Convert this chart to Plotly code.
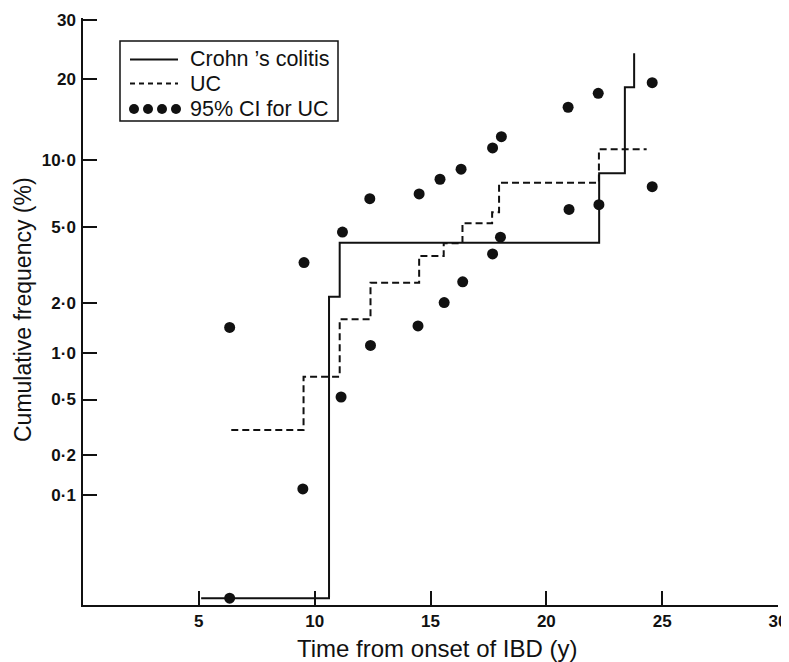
import plotly.graph_objects as go
from statistics import NormalDist

# ---------------- data ----------------
crohn_years = [5.1, 10.62, 11.08, 22.28, 23.39, 23.79]
crohn_pct = [0, 2.17, 4.20, 8.80, 18.72, 24.06]

uc_years = [6.40, 9.52, 11.08, 12.41, 14.51, 15.57, 16.38, 17.66, 17.96, 22.27, 24.33]
uc_pct = [0.307, 0.709, 1.61, 2.59, 3.59, 4.17, 5.23, 5.89, 8.02, 11.06, 11.06]

ci_upper_years = [6.33, 9.54, 11.20, 12.38, 14.51, 15.41, 16.32, 17.68, 18.06, 20.94, 22.24, 24.57]
ci_upper_pct = [1.44, 3.32, 4.74, 6.81, 7.15, 8.30, 9.16, 11.2, 12.4, 15.96, 17.86, 19.4]
ci_lower_years = [6.33, 9.49, 11.14, 12.41, 14.46, 15.59, 16.39, 17.68, 18.02, 20.98, 22.27, 24.57]
ci_lower_pct = [0, 0.111, 0.52, 1.12, 1.47, 2.01, 2.62, 3.68, 4.47, 6.08, 6.39, 7.70]

y_tick_values = [0.1, 0.2, 0.5, 1, 2, 5, 10, 20, 30]
y_tick_labels = ["0·1", "0·2", "0·5", "1·0", "2·0", "5·0", "10·0", "20", "30"]
x_tick_values = [5, 10, 15, 20, 25, 30]

legend_labels = ["Crohn \u2019s colitis", "UC", "95% CI for UC"]

# ---------------- probability (probit) scale ----------------
ND = NormalDist()
ZERO_Z = -3.65  # where 0 % is drawn on normal-probability paper


def prob(v):
    return ZERO_Z if v <= 0 else ND.inv_cdf(v / 100.0)


def tr(vals):
    return [prob(v) for v in vals]


Y_BOTTOM = -3.6866
Y_TOP = -0.5136

FONT = "Liberation Sans, Arial, sans-serif"
INK = "#111111"

# page geometry: the html body adds an 8px offset
OFF = 8
W, H = 789 - OFF, 662 - OFF
PLOT_L, PLOT_R, PLOT_T, PLOT_B = 83, 778, 18, 605  # page pixels
ML, MT = PLOT_L - OFF, PLOT_T - OFF
MR, MB = W - (PLOT_R - OFF), H - (PLOT_B - OFF)
PW, PH = PLOT_R - PLOT_L, PLOT_B - PLOT_T


def px(x):
    return (x - PLOT_L) / PW


def py(y):
    return (PLOT_B - y) / PH


fig = go.Figure()

fig.add_trace(go.Scatter(
    x=crohn_years, y=tr(crohn_pct), mode="lines", line_shape="hv",
    line=dict(color=INK, width=2), showlegend=False, hoverinfo="skip"))

fig.add_trace(go.Scatter(
    x=uc_years, y=tr(uc_pct), mode="lines", line_shape="hv",
    line=dict(color=INK, width=2, dash="7px,4px"), showlegend=False, hoverinfo="skip"))

fig.add_trace(go.Scatter(
    x=ci_upper_years, y=tr(ci_upper_pct), mode="markers",
    marker=dict(color=INK, size=11), showlegend=False, hoverinfo="skip", cliponaxis=False))
fig.add_trace(go.Scatter(
    x=ci_lower_years, y=tr(ci_lower_pct), mode="markers",
    marker=dict(color=INK, size=11), showlegend=False, hoverinfo="skip", cliponaxis=False))

# ---------------- manual legend ----------------
shapes = []
annotations = []
shapes.append(dict(type="rect", xref="paper", yref="paper",
                   x0=px(120), x1=px(338), y0=py(121), y1=py(41),
                   line=dict(color=INK, width=1.5), fillcolor="white", layer="above"))
shapes.append(dict(type="line", xref="paper", yref="paper",
                   x0=px(130), x1=px(178), y0=py(59.5), y1=py(59.5),
                   line=dict(color=INK, width=2), layer="above"))
shapes.append(dict(type="line", xref="paper", yref="paper",
                   x0=px(130), x1=px(178), y0=py(83.5), y1=py(83.5),
                   line=dict(color=INK, width=2, dash="5px,4px"), layer="above"))
for cx in [134, 148, 162, 176]:
    shapes.append(dict(type="circle", xref="paper", yref="paper",
                       xsizemode="pixel", ysizemode="pixel",
                       xanchor=px(cx), yanchor=py(109), x0=-5, x1=5, y0=-5, y1=5,
                       fillcolor=INK, line=dict(color=INK, width=0), layer="above"))
for label, yy in zip(legend_labels, [59, 84, 109]):
    annotations.append(dict(text=label, xref="paper", yref="paper", x=px(188), y=py(yy),
                            xanchor="left", yanchor="middle", showarrow=False,
                            font=dict(family=FONT, size=21.5, color=INK)))

# axis titles
annotations.append(dict(text="Cumulative frequency (%)", xref="paper", yref="paper",
                        x=px(23), y=py(310), textangle=-90, showarrow=False,
                        xanchor="center", yanchor="middle",
                        font=dict(family=FONT, size=23, color=INK)))
annotations.append(dict(text="Time from onset of IBD (y)", xref="paper", yref="paper",
                        x=px(437), y=py(648), showarrow=False,
                        xanchor="center", yanchor="middle",
                        font=dict(family=FONT, size=24, color=INK)))

TICKFONT = dict(family=FONT, size=17, color=INK, weight="bold")

fig.update_layout(
    width=W, height=H,
    margin=dict(l=ML, r=MR, t=MT, b=MB, autoexpand=False),
    paper_bgcolor="white", plot_bgcolor="white",
    showlegend=False,
    shapes=shapes, annotations=annotations,
    font=dict(family=FONT, color=INK),
    xaxis=dict(range=[0, 30], tickvals=x_tick_values, ticks="inside", ticklen=14,
               tickwidth=1.5, tickcolor=INK, showline=True, linecolor=INK, linewidth=1.5,
               showgrid=False, zeroline=False, automargin=False,
               tickfont=TICKFONT),
    yaxis=dict(range=[Y_BOTTOM, Y_TOP], tickvals=tr(y_tick_values), ticktext=y_tick_labels,
               ticks="inside", ticklen=14, tickwidth=1.5, tickcolor=INK,
               showline=True, linecolor=INK, linewidth=1.5, automargin=False,
               ticklabelstandoff=2,
               showgrid=False, zeroline=False, tickfont=TICKFONT),
)

fig.write_html("out.html")
